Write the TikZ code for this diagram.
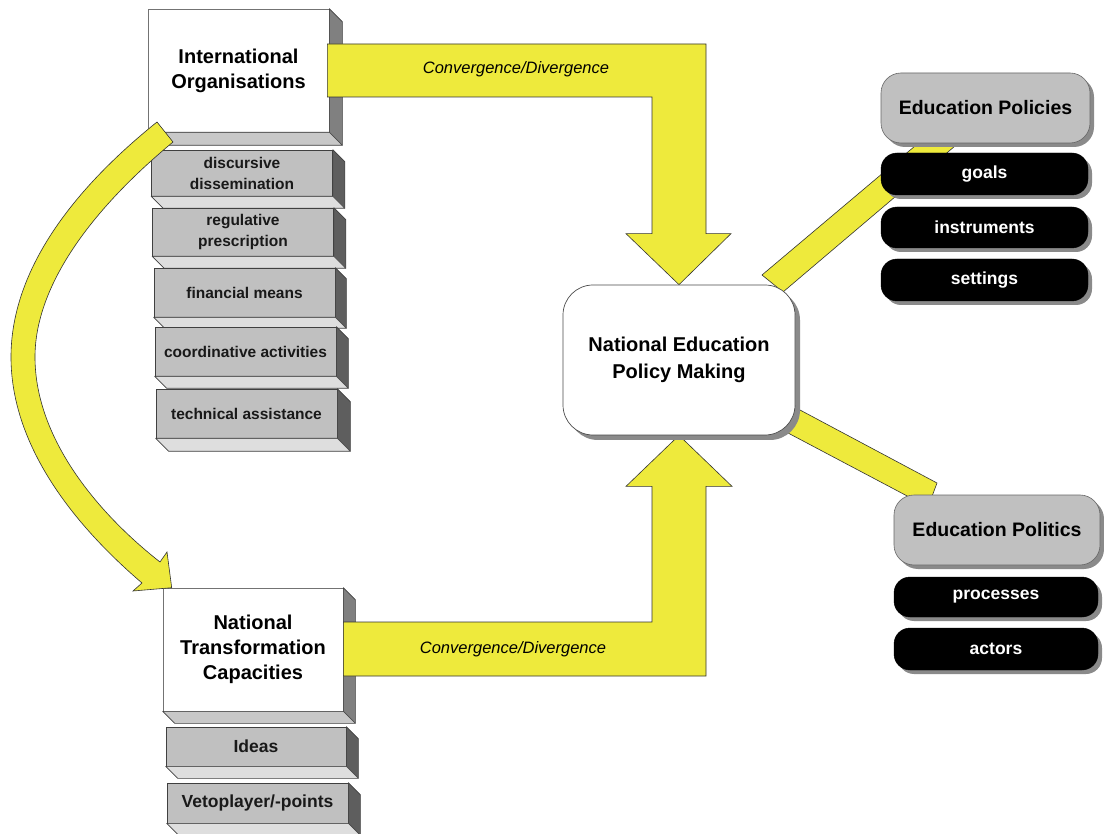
\documentclass[tikz,border=0pt]{standalone}
\usepackage{fontspec}
\setmainfont{Liberation Sans}
\usetikzlibrary{calc,shadows}
\pgfdeclarelayer{back}
\pgfsetlayers{back,main}
\definecolor{ylw}{HTML}{EEEA3C}
\definecolor{boxgray}{HTML}{C0C0C0}
\definecolor{sidedark}{HTML}{5E5E5E}
\definecolor{sidemid}{HTML}{808080}
\definecolor{botlight}{HTML}{DEDEDE}
\definecolor{botmid}{HTML}{C8C8C8}
\definecolor{shadowgray}{HTML}{8A8A8A}
\newcommand\extrude[4]{%
  \filldraw[fill=#3,draw=black!75,line width=0.6pt,line join=round] (#1.north east) -- ++(#2,#2) -- ($(#1.south east)+(#2,#2)$) -- (#1.south east) -- cycle;
  \filldraw[fill=#4,draw=black!75,line width=0.6pt,line join=round] (#1.south west) -- ++(#2,#2) -- ($(#1.south east)+(#2,#2)$) -- (#1.south east) -- cycle;
}
\tikzset{
  bigbox/.style={rectangle, fill=white, draw=black!55, line width=0.6pt, align=center, inner sep=0pt,
    minimum width=181pt, minimum height=123pt, font=\bfseries\fontsize{20}{25}\selectfont},
  grbox/.style={rectangle, fill=boxgray, draw=black!75, line width=0.6pt, align=center, inner sep=0pt,
    minimum width=181pt, minimum height=48pt, font=\bfseries\fontsize{15.5}{21}\selectfont, text=black!90},
  grboxl/.style={grbox, minimum height=40pt, font=\bfseries\fontsize{17.5}{21}\selectfont},
  yband/.style={fill=ylw, draw=black!80, line width=0.6pt, line join=miter},
  cdlabel/.style={font=\itshape\fontsize{16.5}{20}\selectfont},
  centerbox/.style={rectangle, rounded corners=30pt, fill=white, draw=black!70, line width=0.7pt,
    minimum width=232pt, minimum height=150pt, align=center, inner sep=0pt,
    font=\bfseries\fontsize{20}{27}\selectfont,
    drop shadow={shadow xshift=5pt, shadow yshift=-5pt, fill=shadowgray, opacity=1}},
  edbox/.style={rectangle, rounded corners=20pt, fill=boxgray, draw=black!60, line width=0.6pt,
    minimum height=70pt, inner sep=0pt, font=\bfseries\fontsize{19.5}{24}\selectfont,
    drop shadow={shadow xshift=4pt, shadow yshift=-4pt, fill=shadowgray, opacity=1}},
  blkbox/.style={rectangle, rounded corners=16pt, fill=black, draw=black, text=white,
    minimum height=41pt, inner sep=0pt, font=\bfseries\fontsize{17.5}{21}\selectfont,
    drop shadow={shadow xshift=4pt, shadow yshift=-4pt, fill=shadowgray, opacity=1}},
}
\begin{document}
\begin{tikzpicture}[x=1pt,y=-1pt]
\useasboundingbox (0,0) rectangle (1104,834);

% ---- centre box (main layer, on top of everything drawn on 'back') ----
\node[centerbox] (npm) at (679,360) {National Education\\Policy Making};

% ---- right: Education Policies ----
\node[edbox, minimum width=209pt] (epol) at (985.5,108) {Education Policies};
\node[blkbox, minimum width=207pt, minimum height=42pt] (goals) at (984.5,174) {goals};
\node[blkbox, minimum width=207pt] (instr) at (984.5,227.5) {instruments};
\node[blkbox, minimum width=207pt, minimum height=42pt] (sett) at (984.5,280) {settings};

% ---- right: Education Politics ----
\node[edbox, minimum width=206pt] (epot) at (997,530) {Education Politics};
\node[blkbox, minimum width=204pt, minimum height=40pt] (proc) at (996,597) {processes};
\node[blkbox, minimum width=204pt, minimum height=42pt] (act) at (996,649) {actors};

\begin{pgfonlayer}{back}
\fill[white] (0,0) rectangle (1104,834);
% ---- left column: International Organisations ----
\node[bigbox] (io) at (238.5,70.5) {International\\Organisations};
\extrude{io}{13}{sidemid}{botmid}
\node[grbox, minimum height=46pt] (dd) at (242,173) {discursive\\dissemination};
\extrude{dd}{12}{sidedark}{botlight}
\node[grbox] (rp) at (243,232) {regulative\\prescription};
\extrude{rp}{12}{sidedark}{botlight}
\node[grbox, minimum height=49pt] (fm) at (244.5,292.5) {financial means};
\extrude{fm}{11}{sidedark}{botlight}
\node[grbox, minimum height=49pt] (ca) at (245.5,351.5) {coordinative activities};
\extrude{ca}{12}{sidedark}{botlight}
\node[grbox, minimum height=49pt] (ta) at (246.5,413.5) {technical assistance};
\extrude{ta}{13}{sidedark}{botlight}

% ---- left column: National Transformation Capacities ----
\node[bigbox, minimum width=180pt] (ntc) at (253,649.5) {National\\Transformation\\Capacities};
\extrude{ntc}{12}{sidemid}{botmid}
\node[grboxl, minimum width=180pt, minimum height=39pt] (ideas) at (256,746.5) {Ideas};
\extrude{ideas}{12}{sidedark}{botlight}
\node[grboxl] (veto) at (257.5,803) {Vetoplayer/-points};
\extrude{veto}{12}{sidedark}{botlight}

% ---- thin yellow bands from the centre box to the right groups ----
\filldraw[yband] (762,275) -- (915,146) -- (955,146) -- (783,292) -- cycle;
\filldraw[yband] (800,410) -- (937,483) -- (928,507) -- (788,433) -- cycle;

% ---- big yellow arrows ----
\filldraw[yband] ($(io.east)+(-2,-26.5)$) -| ($(npm.north)+(27,-51)$) -- ++(25,0) -- (npm.north)
  -- ++(-53,-51) -- ++(26,0) |- ($(io.east)+(-2,26.5)$) -- cycle;
\node[cdlabel] (cd1) at (516,69) {Convergence/Divergence};
\filldraw[yband] ($(ntc.east)+(0,-27.5)$) -| ($(npm.south)+(-27,51)$) -- ++(-26,0) -- (npm.south)
  -- ++(53,51) -- ++(-26,0) |- ($(ntc.east)+(0,26.5)$) -- cycle;
\node[cdlabel] (cd2) at (513,649) {Convergence/Divergence};

% ---- curved arrow from IO to NTC ----
\filldraw[yband] (157,122) .. controls (60,200) and (11,280) .. (11,357)
  .. controls (11,450) and (80,530) .. (142,583)
  -- (133,591) -- ($(ntc.north west)+(9,0)$) -- (167,552) -- (160,562)
  .. controls (100,515) and (35,440) .. (35,357)
  .. controls (35,290) and (85,215) .. (173,142) -- cycle;
\end{pgfonlayer}
\end{tikzpicture}
\end{document}
